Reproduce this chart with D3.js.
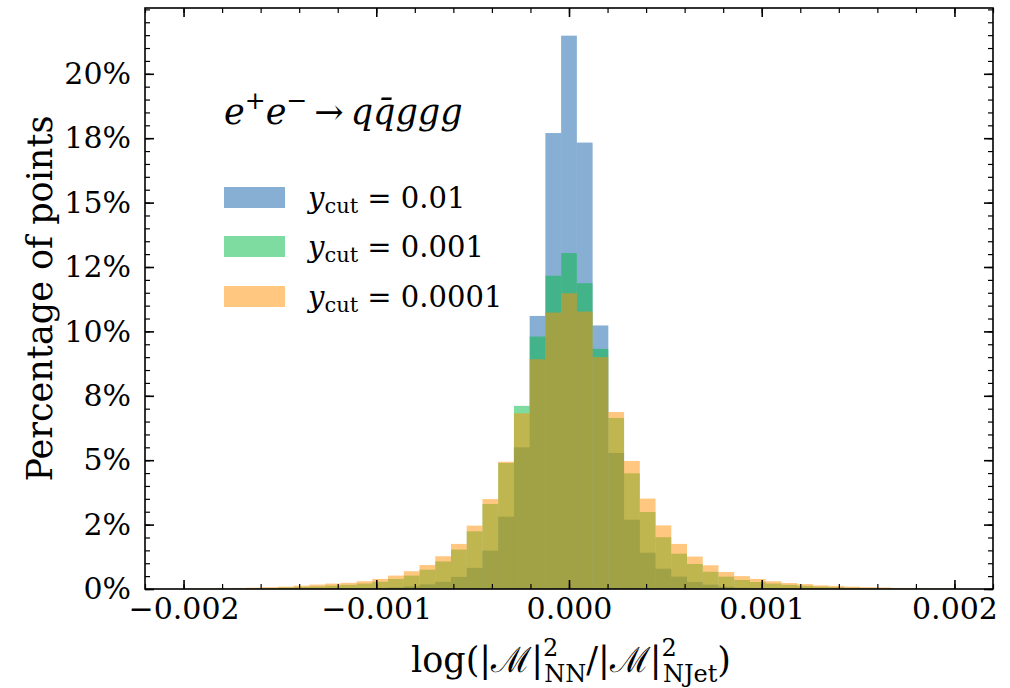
<!DOCTYPE html>
<html>
<head>
<meta charset="utf-8">
<script src="https://cdn.jsdelivr.net/npm/d3@7"></script>
<style>
  html, body { margin: 0; padding: 0; background: #fff; }
  svg { display: block; }
  text { font-family: "DejaVu Serif", serif; fill: #000; }
</style>
</head>
<body>
<svg id="chart" width="1010" height="688"></svg>
<script>
// ---- data ----
const binStart = -0.002;
const binEnd = 0.002;
const nBins = 49;

const seriesNames = ["0.01", "0.001", "0.0001"];

// percentage of points per bin (49 bins from -0.002 to 0.002)
const ycut001 = [
  0, 0, 0, 0, 0, 0, 0, 0, 0.01, 0.01,
  0.02, 0.02, 0.04, 0.06, 0.10, 0.18, 0.28, 0.47, 0.82, 1.49,
  2.81, 5.50, 10.60, 17.70, 21.48, 17.33, 10.23, 5.28, 2.69, 1.41,
  0.79, 0.48, 0.27, 0.17, 0.09, 0.05, 0.03, 0.02, 0.01, 0.01,
  0, 0, 0, 0, 0, 0, 0, 0, 0
];
const ycut0001 = [
  0.01, 0.01, 0.02, 0.02, 0.03, 0.04, 0.06, 0.08, 0.10, 0.13,
  0.16, 0.21, 0.28, 0.39, 0.52, 0.75, 1.07, 1.53, 2.24, 3.30,
  4.89, 7.11, 9.80, 12.16, 13.04, 11.87, 9.32, 6.64, 4.49, 2.99,
  2.01, 1.37, 0.97, 0.67, 0.48, 0.35, 0.27, 0.21, 0.16, 0.12,
  0.09, 0.07, 0.05, 0.04, 0.03, 0.02, 0.02, 0.01, 0.01
];
const ycut00001 = [
  0.01, 0.01, 0.02, 0.04, 0.05, 0.07, 0.09, 0.13, 0.17, 0.21,
  0.24, 0.30, 0.39, 0.52, 0.69, 0.93, 1.27, 1.75, 2.46, 3.49,
  4.94, 6.82, 8.92, 10.73, 11.48, 10.77, 9.00, 6.87, 4.97, 3.51,
  2.47, 1.75, 1.26, 0.92, 0.66, 0.50, 0.39, 0.30, 0.23, 0.19,
  0.14, 0.12, 0.09, 0.07, 0.06, 0.04, 0.03, 0.025, 0.02
];

const xTickValues = [-0.002, -0.001, 0.000, 0.001, 0.002];
const xTickLabels = ["\u22120.002", "\u22120.001", "0.000", "0.001", "0.002"];
const yTickValues = [0, 2.5, 5, 7.5, 10, 12.5, 15, 17.5, 20];
const yTickLabels = ["0%", "2%", "5%", "8%", "10%", "12%", "15%", "18%", "20%"];

// ---- layout ----
const svg = d3.select("#chart");
const L = 145, R = 993, T = 8, B = 589;

const x = d3.scaleLinear().domain([-0.0022, 0.0022]).range([L, R]);
const yMax = d3.max([ycut001, ycut0001, ycut00001].flat()) * 1.05;
const y = d3.scaleLinear().domain([0, yMax]).range([B, T]);

const colors = ["rgb(15,93,167)", "rgb(0,185,65)", "rgb(255,143,0)"];
const seriesData = [ycut001, ycut0001, ycut00001];

const binW = (binEnd - binStart) / nBins;
const edges = d3.range(nBins + 1).map(i => binStart + i * binW);

// ---- bars ----
const barsG = svg.append("g");
seriesData.forEach((vals, si) => {
  barsG.append("g")
    .selectAll("rect")
    .data(vals)
    .join("rect")
    .attr("x", (d, i) => x(edges[i]))
    .attr("width", (d, i) => x(edges[i + 1]) - x(edges[i]))
    .attr("y", d => y(d))
    .attr("height", d => B - y(d))
    .attr("fill", colors[si])
    .attr("fill-opacity", 0.5);
});

// ---- axes ----
const xMinor = d3.range(-11, 12).map(k => k * 0.0002);
const yMinor = d3.range(0, yMax, 0.5);

function styleAxis(g, w) {
  g.select(".domain").remove();
  g.selectAll(".tick line").attr("stroke", "#000").attr("stroke-width", w);
}

// bottom major
svg.append("g").attr("transform", `translate(0,${B})`)
  .call(d3.axisBottom(x).tickValues(xTickValues).tickSize(-9).tickSizeOuter(0).tickPadding(9)
    .tickFormat((d, i) => xTickLabels[i]))
  .call(g => styleAxis(g, 1.6))
  .call(g => g.selectAll("text").attr("font-size", 30).attr("font-family", "DejaVu Serif"));
// bottom minor
svg.append("g").attr("transform", `translate(0,${B})`)
  .call(d3.axisBottom(x).tickValues(xMinor).tickSize(-5).tickSizeOuter(0).tickFormat(""))
  .call(g => styleAxis(g, 1.2));
// top major / minor
svg.append("g").attr("transform", `translate(0,${T})`)
  .call(d3.axisTop(x).tickValues(xTickValues).tickSize(-9).tickSizeOuter(0).tickFormat(""))
  .call(g => styleAxis(g, 1.6));
svg.append("g").attr("transform", `translate(0,${T})`)
  .call(d3.axisTop(x).tickValues(xMinor).tickSize(-5).tickSizeOuter(0).tickFormat(""))
  .call(g => styleAxis(g, 1.2));
// left major
svg.append("g").attr("transform", `translate(${L},0)`)
  .call(d3.axisLeft(y).tickValues(yTickValues).tickSize(-9).tickSizeOuter(0).tickPadding(14)
    .tickFormat((d, i) => yTickLabels[i]))
  .call(g => styleAxis(g, 1.6))
  .call(g => g.selectAll("text").attr("font-size", 30).attr("font-family", "DejaVu Serif"));
svg.append("g").attr("transform", `translate(${L},0)`)
  .call(d3.axisLeft(y).tickValues(yMinor).tickSize(-5).tickSizeOuter(0).tickFormat(""))
  .call(g => styleAxis(g, 1.2));
// right
svg.append("g").attr("transform", `translate(${R},0)`)
  .call(d3.axisRight(y).tickValues(yTickValues).tickSize(-9).tickSizeOuter(0).tickFormat(""))
  .call(g => styleAxis(g, 1.6));
svg.append("g").attr("transform", `translate(${R},0)`)
  .call(d3.axisRight(y).tickValues(yMinor).tickSize(-5).tickSizeOuter(0).tickFormat(""))
  .call(g => styleAxis(g, 1.2));

// frame
svg.append("rect").attr("x", L).attr("y", T).attr("width", R - L).attr("height", B - T)
  .attr("fill", "none").attr("stroke", "#000").attr("stroke-width", 1.6);

// ---- axis labels ----
svg.append("text")
  .attr("transform", `translate(52,${(T + B) / 2}) rotate(-90)`)
  .attr("text-anchor", "middle")
  .attr("font-size", 35)
  .text("Percentage of points");

const xl = svg.append("text")
  .attr("x", (L + R) / 2 + 2).attr("y", 672)
  .attr("text-anchor", "middle")
  .attr("font-size", 35);
xl.append("tspan").text("log(|");
xl.append("tspan").text("\u2133");
xl.append("tspan").text("|");
xl.append("tspan").attr("font-size", 24).attr("dy", -16).text("2");
xl.append("tspan").attr("font-size", 24).attr("dx", -14).attr("dy", 26).text("NN");
xl.append("tspan").attr("dy", -10).text("/|");
xl.append("tspan").text("\u2133");
xl.append("tspan").text("|");
xl.append("tspan").attr("font-size", 24).attr("dy", -16).text("2");
xl.append("tspan").attr("font-size", 24).attr("dx", -14).attr("dy", 26).text("NJet");
xl.append("tspan").attr("dy", -10).text(")");

// ---- title ----
const tt = svg.append("text").attr("x", 224).attr("y", 124).attr("font-size", 35);
tt.append("tspan").attr("font-style", "italic").text("e");
tt.append("tspan").attr("font-size", 25).attr("dy", -15).text("+");
tt.append("tspan").attr("font-style", "italic").attr("dy", 15).text("e");
tt.append("tspan").attr("font-size", 25).attr("dy", -15).text("\u2212");
tt.append("tspan").attr("dy", 15).text("\u2009\u2192\u2009");
tt.append("tspan").attr("font-style", "italic").text("q");
tt.append("tspan").attr("font-style", "italic").text("q\u0304");
tt.append("tspan").attr("font-style", "italic").text("ggg");

// ---- legend ----
const legY = [187, 236, 286];
seriesNames.forEach((name, i) => {
  svg.append("rect").attr("x", 224).attr("y", legY[i]).attr("width", 61).attr("height", 21)
    .attr("fill", colors[i]).attr("fill-opacity", 0.5);
  const t = svg.append("text").attr("x", 308).attr("y", legY[i] + 21).attr("font-size", 29);
  t.append("tspan").attr("font-style", "italic").text("y");
  t.append("tspan").attr("font-size", 21).attr("dy", 5).text("cut");
  t.append("tspan").attr("dy", -5).text(" = " + name);
});
</script>
</body>
</html>
